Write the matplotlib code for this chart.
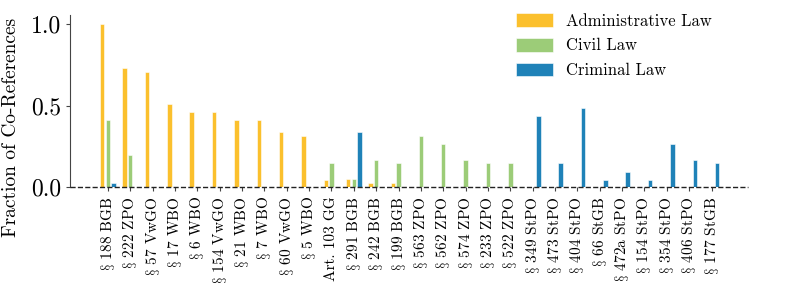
import numpy as np
import matplotlib
matplotlib.use("Agg")
import matplotlib.pyplot as plt

plt.rcParams['font.family'] = ['cmr10', 'DejaVu Serif']
plt.rcParams['mathtext.fontset'] = 'cm'
plt.rcParams['axes.unicode_minus'] = False
plt.rcParams['axes.formatter.use_mathtext'] = True

norms = ['§ 188 BGB', '§ 222 ZPO', '§ 57 VwGO', '§ 17 WBO', '§ 6 WBO', '§ 154 VwGO',
         '§ 21 WBO', '§ 7 WBO', '§ 60 VwGO', '§ 5 WBO', 'Art. 103 GG', '§ 291 BGB',
         '§ 242 BGB', '§ 199 BGB', '§ 563 ZPO', '§ 562 ZPO', '§ 574 ZPO', '§ 233 ZPO',
         '§ 522 ZPO', '§ 349 StPO', '§ 473 StPO', '§ 404 StPO', '§ 66 StGB',
         '§ 472a StPO', '§ 154 StPO', '§ 354 StPO', '§ 406 StPO', '§ 177 StGB']

admin = [1.0, 0.73, 0.707, 0.51, 0.46, 0.46, 0.41, 0.41, 0.34, 0.315, 0.047, 0.049,
         0.024, 0.024, 0, 0, 0, 0, 0, 0, 0, 0, 0, 0, 0, 0, 0, 0]
civil = [0.41, 0.195, 0, 0, 0, 0, 0, 0, 0, 0, 0.146, 0.049, 0.17, 0.146,
         0.315, 0.267, 0.17, 0.146, 0.146, 0, 0, 0, 0, 0, 0, 0, 0, 0]
criminal = [0.024, 0, 0, 0, 0, 0, 0, 0, 0, 0, 0, 0.34, 0, 0,
            0, 0, 0, 0, 0, 0.437, 0.146, 0.486, 0.047, 0.096, 0.047, 0.267, 0.17, 0.146]

series = [('Administrative Law', admin, '#fbc02d'),
          ('Civil Law', civil, '#9ccc78'),
          ('Criminal Law', criminal, '#1f82b8')]

# cmr10 puts a Sigma where the section sign should be, so use mathtext for it
labels = [n.replace('§', r'$\S$') for n in norms]

x = np.arange(len(norms))
fig, ax = plt.subplots(figsize=(7.93, 3.02), dpi=100)

for i, (name, vals, col) in enumerate(series):
    ax.bar(x + (i - 1) * 0.25, vals, width=0.2, color=col, edgecolor='white',
           linewidth=0.4, label=name, zorder=2)

ax.axhline(0, color='#222222', linestyle='--', linewidth=1.0, zorder=3, clip_on=False)
ax.set_xlim(-1.7, len(norms) - 1 + 1.62)
ax.set_ylim(0, 1.055)
ax.set_xticks(x)
ax.set_xticklabels(labels, rotation=90, fontsize=11)
ax.set_yticks([0.0, 0.5, 1.0])
ax.set_yticklabels(['0.0', '0.5', '1.0'], fontsize=17)
ax.set_ylabel('Fraction of Co-References', fontsize=14)
ax.yaxis.set_label_coords(-0.073, 0.35)
for s in ['top', 'right', 'bottom']:
    ax.spines[s].set_visible(False)
ax.spines['left'].set_color('#444444')
ax.tick_params(axis='both', length=3, color='#444444')

ax.legend(loc='upper right', frameon=False, fontsize=12, handlelength=2.2,
          handleheight=0.9, labelspacing=0.55, bbox_to_anchor=(0.969, 1.1))

fig.subplots_adjust(left=0.088, right=0.943, top=0.95, bottom=0.38)
fig.savefig('out.png', dpi=100)
